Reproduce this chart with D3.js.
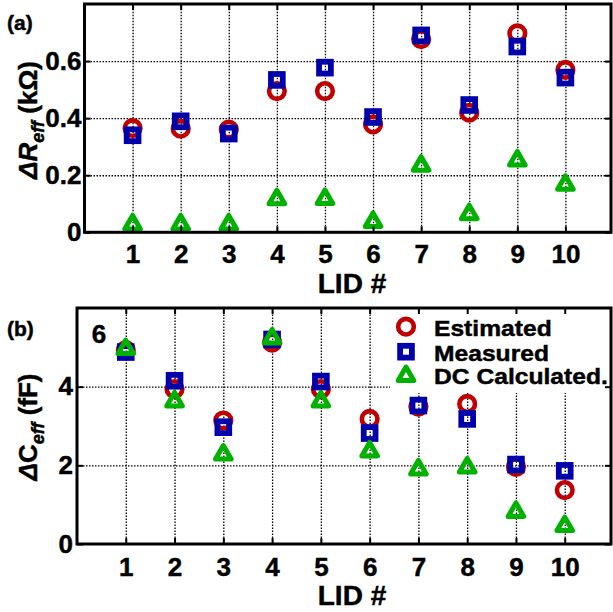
<!DOCTYPE html>
<html>
<head>
<meta charset="utf-8">
<script src="https://cdn.jsdelivr.net/npm/d3@7"></script>
<style>
  body { margin: 0; background: #fff; }
  svg text { font-family: "Liberation Sans", Arial, sans-serif; font-weight: bold; fill: #000; stroke: #000; stroke-width: 0.45; }
  .grid line { stroke: #000; stroke-width: 1.3; stroke-dasharray: 1.5,1.5; }
  .grid path { display: none; }
  .ax path { display: none; }
  .ax line { stroke: #000; stroke-width: 2; }
</style>
</head>
<body>
<div id="chart-area"></div>
<script>
// LID numbers
var lid = [1, 2, 3, 4, 5, 6, 7, 8, 9, 10];

// panel (a): delta R_eff (kOhm)
var rEstimated = [0.365, 0.363, 0.360, 0.495, 0.495, 0.378, 0.677, 0.419, 0.697, 0.569];
var rMeasured  = [0.340, 0.389, 0.346, 0.534, 0.577, 0.404, 0.690, 0.446, 0.651, 0.542];
var rDC        = [0.031, 0.031, 0.031, 0.119, 0.120, 0.040, 0.237, 0.067, 0.255, 0.170];

// panel (b): delta C_eff (fF)
var cEstimated = [4.93, 3.94, 3.14, 5.12, 3.94, 3.18, 3.49, 3.56, 1.96, 1.37];
var cMeasured  = [4.88, 4.15, 2.97, 5.20, 4.13, 2.82, 3.52, 3.18, 2.02, 1.86];
var cDC        = [4.98, 3.65, 2.30, 5.25, 3.65, 2.38, 1.92, 1.97, 0.84, 0.48];

var rTicks = [0, 0.2, 0.4, 0.6];
var cTicks = [0, 2, 4];
var seriesNames = ['Estimated', 'Measured', 'DC Calculated.'];

var red = '#c00000', blue = '#0000ab', green = '#00b100';

var svg = d3.select('#chart-area').append('svg')
    .attr('width', 613)
    .attr('height', 612);

// draw one marker of given kind at (cx, cy)
function marker(g, kind, cx, cy) {
  if (kind == 'circle') {
    g.append('circle')
      .attr('cx', cx).attr('cy', cy).attr('r', 7.8)
      .attr('fill', 'none').attr('stroke', red).attr('stroke-width', 4.6);
  } else if (kind == 'square') {
    g.append('rect')
      .attr('x', cx - 5.9).attr('y', cy - 5.9)
      .attr('width', 11.8).attr('height', 11.8)
      .attr('fill', 'none').attr('stroke', blue).attr('stroke-width', 5.8);
  } else {
    g.append('path')
      .attr('d', d3.symbol(d3.symbolTriangle, 105)())
      .attr('transform', 'translate(' + cx + ',' + (cy + 1) + ')')
      .attr('fill', 'none').attr('stroke', green).attr('stroke-width', 5)
      .attr('stroke-linejoin', 'round');
  }
}

function panel(opts) {
  var x = d3.scaleLinear().domain([0, 11]).range([opts.left, 613.5]);
  var y = d3.scaleLinear().domain([0, opts.ymax]).range([opts.bottom, opts.top]);
  var right = 611;
  var g = svg.append('g');

  // grid
  g.append('g').attr('class', 'grid')
    .attr('transform', 'translate(0,' + opts.bottom + ')')
    .call(d3.axisBottom(x).tickValues(lid).tickSize(-(opts.bottom - opts.top)).tickFormat(''));
  g.append('g').attr('class', 'grid')
    .attr('transform', 'translate(' + opts.left + ',0)')
    .call(d3.axisLeft(y).tickValues(opts.ticks.slice(1)).tickSize(-(right - opts.left)).tickFormat(''));

  // legend box hides grid behind it
  if (opts.legend) {
    g.append('rect').attr('x', 390).attr('y', opts.top).attr('width', right - 390).attr('height', 85)
      .attr('fill', '#fff');
  }

  // markers: circles, then squares, then triangles
  var m = g.append('g');
  lid.forEach(function(d, i) { marker(m, 'circle', x(d), y(opts.est[i])); });
  lid.forEach(function(d, i) { marker(m, 'square', x(d), y(opts.meas[i])); });
  lid.forEach(function(d, i) { marker(m, 'triangle', x(d), y(opts.dc[i])); });

  // axes with inward ticks
  g.append('g').attr('class', 'ax')
    .attr('transform', 'translate(0,' + opts.bottom + ')')
    .call(d3.axisBottom(x).tickValues(lid).tickSize(-6).tickPadding(opts.xpad))
    .selectAll('text').attr('font-size', 26);
  g.append('g').attr('class', 'ax')
    .attr('transform', 'translate(0,' + opts.top + ')')
    .call(d3.axisTop(x).tickValues(lid).tickSize(-6).tickFormat(''));
  g.append('g').attr('class', 'ax')
    .attr('transform', 'translate(' + opts.left + ',0)')
    .call(d3.axisLeft(y).tickValues(opts.ticks).tickSize(-6).tickPadding(opts.ypad).tickFormat(opts.fmt))
    .selectAll('text').attr('font-size', 26);
  g.append('g').attr('class', 'ax')
    .attr('transform', 'translate(' + right + ',0)')
    .call(d3.axisRight(y).tickValues(opts.ticks).tickSize(-6).tickFormat(''));

  // frame
  g.append('rect')
    .attr('x', opts.left).attr('y', opts.top)
    .attr('width', right - opts.left).attr('height', opts.bottom - opts.top)
    .attr('fill', 'none').attr('stroke', '#000').attr('stroke-width', 3);

  // x label
  g.append('text')
    .attr('x', 352).attr('y', opts.bottom + 61)
    .attr('text-anchor', 'middle').attr('font-size', 28)
    .text('LID #');

  // panel tag
  g.append('text').attr('x', 7).attr('y', opts.tagY).attr('font-size', 21).text(opts.tag);

  // y label
  var yl = g.append('text')
    .attr('transform', 'translate(37,' + opts.ylabY + ') rotate(-90)')
    .attr('text-anchor', 'middle').attr('font-size', 26);
  yl.append('tspan').attr('font-style', 'italic').text('\u0394');
  yl.append('tspan').attr('font-style', opts.symItalic ? 'italic' : 'normal').text(opts.sym);
  yl.append('tspan').attr('font-style', 'italic').attr('font-size', 18).attr('dy', 7).text('eff');
  yl.append('tspan').attr('dy', -7).text(' ' + opts.unit);

  return { g: g, x: x, y: y };
}

panel({
  left: 84.5, top: 4, bottom: 232.3, ymax: 0.8,
  ticks: rTicks, fmt: function(d) { return d == 0 ? '0' : d3.format('.1f')(d); },
  est: rEstimated, meas: rMeasured, dc: rDC,
  xpad: 12, ypad: 3, tag: '(a)', tagY: 30, ylabY: 120,
  sym: 'R', symItalic: true, unit: '(k\u03A9)'
});

var pb = panel({
  left: 77, top: 308, bottom: 544, ymax: 6,
  ticks: cTicks, fmt: d3.format('d'),
  est: cEstimated, meas: cMeasured, dc: cDC,
  xpad: 14, ypad: 4, tag: '(b)', tagY: 336, ylabY: 427,
  sym: 'C', symItalic: false, unit: '(fF)', legend: true
});

// stray "6" tick label drawn inside panel (b)
pb.g.append('text').attr('x', 99).attr('y', 343).attr('text-anchor', 'middle')
  .attr('font-size', 26).text('6');

// legend
var kinds = ['circle', 'square', 'triangle'];
var legY = [326.7, 351.7, 375];
var leg = pb.g.append('g');
seriesNames.forEach(function(name, i) {
  marker(leg, kinds[i], 406, legY[i]);
  leg.append('text')
    .attr('transform', 'translate(434,' + (legY[i] + 9) + ') scale(1.12,1)')
    .attr('font-size', 22).text(name);
});
</script>
</body>
</html>
